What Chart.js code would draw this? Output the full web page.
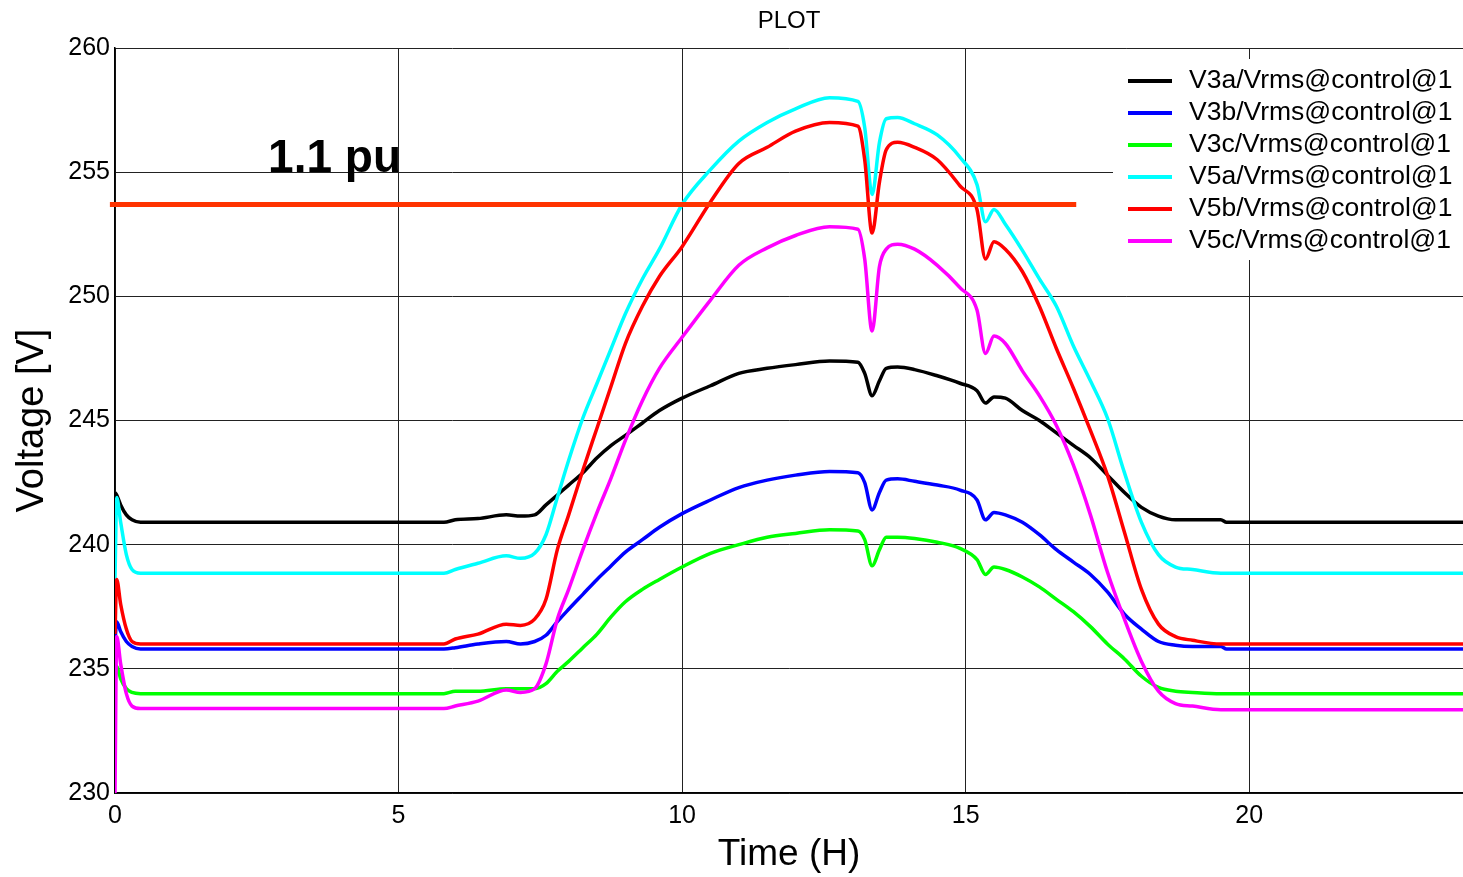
<!DOCTYPE html>
<html lang="en">
<head>
    <meta charset="UTF-8">
    <title>PLOT</title>
    <script src="https://cdn.jsdelivr.net/npm/chart.js"></script>
    <style>
        body {
            margin: 0;
            background: #FFFFFF;
        }
        .chart-container {
            width: 1463px;
            height: 877px;
            position: relative;
        }
    </style>
</head>
<body>
    <div class="chart-container">
        <canvas id="voltChart"></canvas>
    </div>

    <script>
        // time axis (hours), shared by all six traces
        const timeH = [0, 0.03, 0.1, 0.2, 0.3, 0.45, 5.8, 6.0, 6.4, 6.9, 7.15, 7.4,
            7.6, 7.8, 8.0, 8.25, 8.5, 8.75, 9.0, 9.3, 9.6, 10.0, 10.5, 11.0,
            11.5, 12.0, 12.6, 13.1, 13.22, 13.35, 13.48, 13.6, 13.8, 14.1, 14.5, 14.9,
            15.2, 15.35, 15.5, 15.7, 16.0, 16.3, 16.6, 16.9, 17.2, 17.5, 17.8, 18.1,
            18.4, 18.7, 19.0, 19.5, 19.6, 24];

        const v3a = [242.1, 242.0, 241.6, 241.2, 241.0, 240.9, 240.9, 241.0, 241.05, 241.2, 241.15, 241.2,
            241.6, 242.0, 242.4, 242.9, 243.5, 244.0, 244.4, 244.9, 245.4, 245.9, 246.4, 246.9,
            247.1, 247.25, 247.4, 247.35, 246.9, 246.0, 246.6, 247.1, 247.15, 247.05, 246.8, 246.5,
            246.2, 245.7, 245.95, 245.9, 245.4, 245.0, 244.5, 244.0, 243.5, 242.8, 242.1, 241.5,
            241.15, 241.0, 241.0, 241.0, 240.9, 240.9];
        const v3b = [236.1, 236.9, 236.5, 236.1, 235.9, 235.8, 235.8, 235.85, 236.0, 236.1, 236.0, 236.1,
            236.35, 236.9, 237.4, 238.0, 238.6, 239.15, 239.7, 240.2, 240.7, 241.25, 241.8, 242.3,
            242.6, 242.8, 242.95, 242.9, 242.5, 241.4, 242.1, 242.6, 242.65, 242.55, 242.4, 242.2,
            241.8, 241.0, 241.3, 241.2, 240.9, 240.4, 239.8, 239.3, 238.8, 238.1, 237.2, 236.6,
            236.1, 235.95, 235.9, 235.9, 235.8, 235.8];
        const v3c = [234.6, 235.1, 234.6, 234.2, 234.05, 234.0, 234.0, 234.1, 234.1, 234.2, 234.2, 234.2,
            234.4, 234.9, 235.3, 235.85, 236.4, 237.1, 237.7, 238.2, 238.6, 239.1, 239.65, 240.0,
            240.3, 240.45, 240.6, 240.55, 240.2, 239.15, 239.8, 240.3, 240.3, 240.25, 240.1, 239.85,
            239.4, 238.8, 239.1, 239.0, 238.7, 238.3, 237.8, 237.3, 236.7, 236.0, 235.4, 234.7,
            234.25, 234.1, 234.05, 234.0, 234.0, 234.0];
        const v5a = [238.6, 241.9, 240.9, 239.6, 239.0, 238.85, 238.85, 239.0, 239.25, 239.55, 239.45, 239.65,
            240.4, 241.9, 243.4, 245.1, 246.5, 247.9, 249.3, 250.7, 251.9, 253.7, 255.1, 256.25,
            257.0, 257.55, 258.0, 257.85, 256.8, 254.1, 256.2, 257.15, 257.2, 256.95, 256.5, 255.6,
            254.5, 253.0, 253.5, 252.9, 251.85, 250.7, 249.6, 248.0, 246.6, 245.1, 242.9, 240.9,
            239.6, 239.1, 239.0, 238.85, 238.85, 238.85];
        const v5b = [236.4, 238.6, 237.6, 236.6, 236.1, 236.0, 236.0, 236.2, 236.4, 236.8, 236.75, 237.0,
            237.8, 239.8, 241.2, 243.0, 244.7, 246.4, 248.1, 249.6, 250.8, 252.0, 253.8, 255.35,
            256.0, 256.65, 257.0, 256.85, 255.5, 252.55, 254.6, 255.9, 256.2, 256.0, 255.5, 254.45,
            253.5, 251.5, 252.2, 251.9, 251.0, 249.6, 247.9, 246.3, 244.6, 242.8, 240.5, 238.2,
            236.8, 236.3, 236.15, 236.0, 236.0, 236.0];
        const v5c = [230.0, 236.3, 235.2, 234.0, 233.5, 233.4, 233.4, 233.5, 233.7, 234.15, 234.05, 234.2,
            235.2, 237.0, 238.2, 239.8, 241.3, 242.7, 244.2, 245.8, 247.1, 248.35, 249.85, 251.25,
            251.95, 252.45, 252.8, 252.7, 251.5, 248.6, 251.2, 251.9, 252.1, 251.9, 251.25, 250.35,
            249.45, 247.7, 248.4, 248.1, 247.0, 246.0, 244.8, 243.2, 241.2, 238.9, 237.0, 235.3,
            234.1, 233.6, 233.5, 233.35, 233.35, 233.35];

        const seriesNames = ['V3a/Vrms@control@1', 'V3b/Vrms@control@1', 'V3c/Vrms@control@1',
            'V5a/Vrms@control@1', 'V5b/Vrms@control@1', 'V5c/Vrms@control@1'];
        const seriesValues = [v3a, v3b, v3c, v5a, v5b, v5c];
        const seriesColors = ['#000000', '#0000FF', '#00FF00', '#00FFFF', '#FF0000', '#FF00FF'];

        // 1.1 pu limit line
        const limitT = [-0.09, 16.95];
        const limitV = [253.7, 253.7];
        const limitText = '1.1 pu';
        const limitTextAt = { x: 2.7, y: 255 };

        const xTicks = [0, 5, 10, 15, 20];
        const fontFamily = '"Liberation Sans", Arial, sans-serif';

        const datasets = seriesValues.map((vals, i) => ({
            label: seriesNames[i],
            data: timeH.map((t, k) => ({ x: t, y: vals[k] })),
            borderColor: seriesColors[i],
            backgroundColor: seriesColors[i],
            borderWidth: 3.5,
            pointRadius: 0,
            cubicInterpolationMode: 'monotone',
            fill: false,
            order: seriesValues.length - i + 1
        }));
        datasets.push({
            label: 'limit',
            data: limitT.map((t, k) => ({ x: t, y: limitV[k] })),
            borderColor: '#FF3300',
            borderWidth: 5,
            pointRadius: 0,
            fill: false,
            clip: false,
            order: 0
        });

        // legend box + "1.1 pu" note, drawn over the grid
        const overlay = {
            id: 'overlay',
            beforeDatasetsDraw(chart) {
                const ctx = chart.ctx;
                const r = chart.chartArea.right;
                ctx.save();
                ctx.fillStyle = '#FFFFFF';
                ctx.fillRect(r - 350, 59, 350, 201);
                ctx.restore();
            },
            afterDraw(chart) {
                const ctx = chart.ctx;
                const r = chart.chartArea.right;
                ctx.save();
                ctx.textBaseline = 'middle';
                ctx.textAlign = 'left';
                ctx.font = '26.5px ' + fontFamily;
                seriesNames.forEach((name, i) => {
                    const y = 81 + i * 32;
                    ctx.fillStyle = seriesColors[i];
                    ctx.fillRect(r - 335, y - 2, 44, 4);
                    ctx.fillStyle = '#000000';
                    ctx.fillText(name, r - 274, y);
                });
                const xs = chart.scales.x, ys = chart.scales.y;
                ctx.font = 'bold 46px ' + fontFamily;
                ctx.textBaseline = 'alphabetic';
                ctx.fillText(limitText, xs.getPixelForValue(limitTextAt.x), ys.getPixelForValue(limitTextAt.y));
                ctx.restore();
            }
        };

        const ctx = document.getElementById('voltChart').getContext('2d');
        const chart = new Chart(ctx, {
            type: 'line',
            data: { datasets: datasets },
            plugins: [overlay],
            options: {
                responsive: true,
                maintainAspectRatio: false,
                animation: false,
                layout: { padding: 0 },
                plugins: {
                    legend: { display: false },
                    tooltip: { enabled: false },
                    title: {
                        display: true,
                        text: 'PLOT',
                        fullSize: false,
                        color: '#000000',
                        font: { family: fontFamily, size: 24, weight: 'normal' },
                        padding: { top: 6.6, bottom: 12.6 }
                    }
                },
                scales: {
                    x: {
                        type: 'linear',
                        min: 0,
                        max: 23.77,
                        afterBuildTicks: scale => { scale.ticks = xTicks.map(v => ({ value: v })); },
                        afterFit: scale => { scale.height = 84; },
                        grid: { color: '#222222', lineWidth: 1, drawTicks: false },
                        border: { display: true, color: '#000000', width: 1.5 },
                        ticks: {
                            color: '#000000',
                            padding: 8,
                            maxRotation: 0,
                            font: { family: fontFamily, size: 25 }
                        },
                        title: {
                            display: true,
                            text: 'Time (H)',
                            color: '#000000',
                            font: { family: fontFamily, size: 37 },
                            padding: { top: 0, bottom: 0 }
                        }
                    },
                    y: {
                        min: 230,
                        max: 260,
                        afterFit: scale => { scale.width = 115; },
                        grid: { color: '#222222', lineWidth: 1, drawTicks: false },
                        border: { display: true, color: '#000000', width: 1.5 },
                        ticks: {
                            stepSize: 5,
                            color: '#000000',
                            padding: 5,
                            font: { family: fontFamily, size: 25 }
                        },
                        title: {
                            display: true,
                            text: 'Voltage [V]',
                            color: '#000000',
                            font: { family: fontFamily, size: 38 },
                            padding: { top: 10, bottom: 0 }
                        }
                    }
                }
            }
        });
    </script>
</body>
</html>
